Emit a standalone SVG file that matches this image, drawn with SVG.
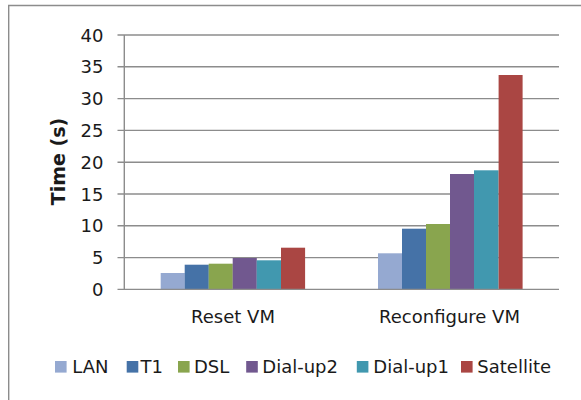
<svg xmlns="http://www.w3.org/2000/svg" width="581" height="400" viewBox="0 0 581 400">
<style>
text{font-family:"DejaVu Sans","Liberation Sans",sans-serif;fill:#1a1a1a;font-size:18px}
.grid{stroke:#8c8c8c;stroke-width:1.4}
.ax{text-anchor:end}
.lan{fill:#95a9d1}.t1{fill:#4572a7}.dsl{fill:#89a54e}.d2{fill:#71588f}.d1{fill:#4198af}.sat{fill:#aa4643}
</style>
<rect width="581" height="400" fill="#fff"/>
<path d="M8.7 410V5.5H590" fill="none" stroke="#8c8c8c" stroke-width="1.4"/>
<g id="gridlines">
<line class="grid" x1="117.5" y1="35" x2="559" y2="35"/>
<line class="grid" x1="117.5" y1="66.8" x2="559" y2="66.8"/>
<line class="grid" x1="117.5" y1="98.6" x2="559" y2="98.6"/>
<line class="grid" x1="117.5" y1="130.4" x2="559" y2="130.4"/>
<line class="grid" x1="117.5" y1="162.2" x2="559" y2="162.2"/>
<line class="grid" x1="117.5" y1="194" x2="559" y2="194"/>
<line class="grid" x1="117.5" y1="225.8" x2="559" y2="225.8"/>
<line class="grid" x1="117.5" y1="257.6" x2="559" y2="257.6"/>
</g>
<g id="axis-labels" class="ax">
<text x="103.5" y="41.5">40</text>
<text x="103.5" y="73.3">35</text>
<text x="103.5" y="105.1">30</text>
<text x="103.5" y="136.9">25</text>
<text x="103.5" y="168.7">20</text>
<text x="103.5" y="200.5">15</text>
<text x="103.5" y="232.3">10</text>
<text x="103.5" y="264.1">5</text>
<text x="103.5" y="295.9">0</text>
</g>
<text id="y-title" transform="translate(64.5 161.5) rotate(-90)" text-anchor="middle" style="font-weight:bold;font-size:19px">Time (s)</text>
<g id="reset-vm">
<rect class="lan" x="160.7" y="273" width="24.1" height="16.4"/>
<rect class="t1" x="184.7" y="264.7" width="24.1" height="24.7"/>
<rect class="dsl" x="208.7" y="263.7" width="24.1" height="25.7"/>
<rect class="d2" x="232.7" y="258" width="24.1" height="31.4"/>
<rect class="d1" x="256.7" y="260.3" width="24.3" height="29.1"/>
<rect class="sat" x="281" y="247.7" width="24.1" height="41.7"/>
<text x="233" y="323.3" text-anchor="middle">Reset VM</text>
</g>
<g id="reconfigure-vm">
<rect class="lan" x="378" y="253.3" width="24.1" height="36.1"/>
<rect class="t1" x="402" y="228.7" width="24.1" height="60.7"/>
<rect class="dsl" x="426" y="224" width="24.1" height="65.4"/>
<rect class="d2" x="450" y="174" width="24.1" height="115.4"/>
<rect class="d1" x="474" y="170.3" width="24.6" height="119.1"/>
<rect class="sat" x="498.6" y="75" width="24" height="214.4"/>
<text x="449.5" y="323.3" text-anchor="middle">Reconfigure VM</text>
</g>
<g id="axes">
<line class="grid" x1="124.3" y1="35" x2="124.3" y2="289.4"/>
<line class="grid" x1="117.5" y1="289.4" x2="559" y2="289.4"/>
</g>
<g id="legend">
<rect class="lan" x="55" y="361" width="11.6" height="11.6"/><text x="72.3" y="372.7">LAN</text>
<rect class="t1" x="126.7" y="361" width="11.6" height="11.6"/><text x="140.5" y="372.7">T1</text>
<rect class="dsl" x="178" y="361" width="11.6" height="11.6"/><text x="194" y="372.7">DSL</text>
<rect class="d2" x="246.2" y="361" width="11.6" height="11.6"/><text x="262.3" y="372.7">Dial-up2</text>
<rect class="d1" x="356.8" y="361" width="11.6" height="11.6"/><text x="373.3" y="372.7">Dial-up1</text>
<rect class="sat" x="461" y="361" width="11.6" height="11.6"/><text x="477.3" y="372.7">Satellite</text>
</g>
</svg>
